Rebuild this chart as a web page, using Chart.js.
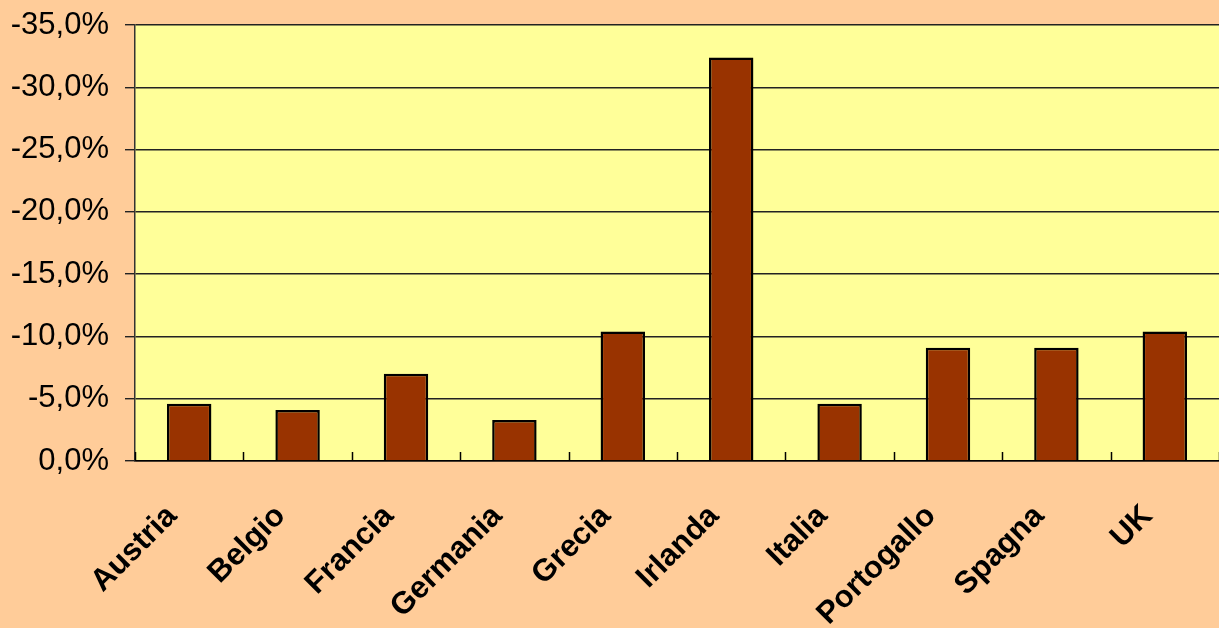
<!DOCTYPE html>
<html>
<head>
<meta charset="utf-8">
<style>
  html, body { margin: 0; padding: 0; background: #FFCC99; }
  #wrap { width: 1219px; height: 628px; }
</style>
</head>
<body>
<div id="wrap"><canvas id="paesiChart" width="1219" height="628"></canvas></div>

<script src="https://cdn.jsdelivr.net/npm/chart.js"></script>
<script>
  (() => {
  const countries = ["Austria", "Belgio", "Francia", "Germania", "Grecia", "Irlanda", "Italia", "Portogallo", "Spagna", "UK"];
  const values = [-4.6, -4.1, -7.0, -3.3, -10.4, -32.4, -4.6, -9.1, -9.1, -10.4];
  const yMin = -35;
  const yMax = 0;
  const yStep = 5;

  // fill the plot area yellow and the rest peach
  const backgrounds = {
    id: 'backgrounds',
    beforeDraw(chart) {
      const ctx = chart.ctx;
      const a = chart.chartArea;
      ctx.save();
      ctx.fillStyle = '#FFCC99';
      ctx.fillRect(0, 0, chart.width, chart.height);
      ctx.fillStyle = '#FFFF99';
      ctx.fillRect(a.left, a.top, a.right - a.left, a.bottom - a.top);
      ctx.restore();
    }
  };

  // small inner ticks between the categories, like the excel chart
  const innerTicks = {
    id: 'innerTicks',
    afterDatasetsDraw(chart) {
      const ctx = chart.ctx;
      const x = chart.scales.x;
      const n = countries.length;
      const step = (x.right - x.left) / n;
      ctx.save();
      ctx.strokeStyle = '#000';
      ctx.lineWidth = 1.5;
      for (let i = 0; i <= n; i++) {
        const px = Math.round(x.left + i * step) + 0.5;
        ctx.beginPath();
        ctx.moveTo(px, x.top);
        ctx.lineTo(px, x.top - 9);
        ctx.stroke();
      }
      ctx.restore();
    }
  };

  new Chart(document.getElementById('paesiChart'), {
    type: 'bar',
    data: {
      labels: countries,
      datasets: [{
        data: values,
        backgroundColor: '#993300',
        borderColor: '#000000',
        borderWidth: 2.5,
        barPercentage: 0.41,
        categoryPercentage: 1
      }]
    },
    options: {
      responsive: false,
      animation: false,
      layout: { padding: { top: 25, right: 0, left: 0, bottom: 0 } },
      plugins: {
        legend: { display: false },
        tooltip: { enabled: false }
      },
      scales: {
        x: {
          grid: { display: false },
          border: { display: true, color: '#000', width: 1.5 },
          ticks: {
            color: '#000',
            font: { family: "'Liberation Sans', Arial", size: 31, weight: 'bold' },
            maxRotation: 45,
            minRotation: 45,
            autoSkip: false,
            padding: 29,
            labelOffset: -17
          },
          afterFit(scale) {
            scale.height = 167;
            scale.paddingLeft = 0;
            scale.paddingRight = 0;
          }
        },
        y: {
          reverse: true,
          min: yMin,
          max: yMax,
          grid: { color: '#222', lineWidth: 1.4, tickLength: 10 },
          border: { display: true, color: '#333', width: 1.5 },
          ticks: {
            stepSize: yStep,
            color: '#000',
            padding: 16,
            font: { family: "'Liberation Sans', Arial", size: 31 },
            callback: v => v.toFixed(1).replace('.', ',') + '%'
          },
          afterFit(scale) {
            scale.width = 135;
            scale.paddingTop = 0;
            scale.paddingBottom = 0;
          }
        }
      }
    },
    plugins: [backgrounds, innerTicks]
  });
  })();
</script>
</body>
</html>
